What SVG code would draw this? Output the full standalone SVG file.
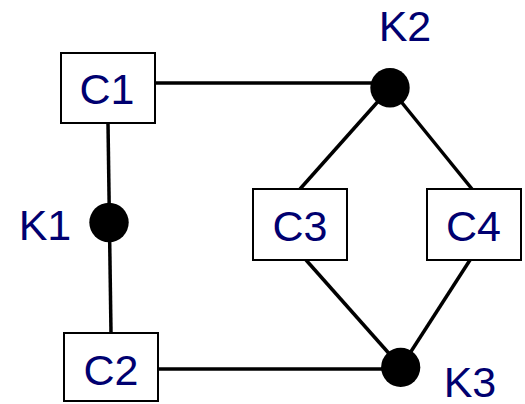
<svg xmlns="http://www.w3.org/2000/svg" width="525" height="404" viewBox="0 0 525 404">
  <style>
    .box { fill: #ffffff; stroke: #000000; stroke-width: 2; }
    .wire { stroke: #000000; stroke-width: 3.5; fill: none; stroke-linecap: butt; }
    .node { fill: #000000; }
    .lbl { font-family: "Liberation Sans", Arial, sans-serif; font-size: 43px; fill: #000070; text-anchor: middle; }
  </style>
  <rect width="525" height="404" fill="#ffffff"/>

  <!-- connectors -->
  <g id="connectors">
    <line class="wire" x1="155" y1="83" x2="390" y2="83"/>
    <line class="wire" x1="108" y1="123" x2="111" y2="333"/>
    <line class="wire" x1="158" y1="369" x2="401" y2="369"/>
    <line class="wire" x1="390" y1="88" x2="300" y2="189"/>
    <line class="wire" x1="390" y1="88" x2="472" y2="189"/>
    <line class="wire" x1="306" y1="260" x2="401" y2="367"/>
    <line class="wire" x1="470" y1="260" x2="401" y2="367"/>
  </g>

  <!-- components -->
  <g id="C1">
    <rect class="box" x="61" y="53" width="94" height="70"/>
    <text class="lbl" x="107" y="104">C1</text>
  </g>
  <g id="C2">
    <rect class="box" x="64" y="333" width="94" height="68"/>
    <text class="lbl" x="111" y="385">C2</text>
  </g>
  <g id="C3">
    <rect class="box" x="253" y="189" width="94" height="71"/>
    <text class="lbl" x="300" y="240.5">C3</text>
  </g>
  <g id="C4">
    <rect class="box" x="427" y="189" width="94" height="71"/>
    <text class="lbl" x="473.5" y="240.5">C4</text>
  </g>

  <!-- junction nodes -->
  <g id="K1">
    <circle class="node" cx="109" cy="222.5" r="19.7"/>
    <text class="lbl" x="45" y="240">K1</text>
  </g>
  <g id="K2">
    <circle class="node" cx="390" cy="87.7" r="19.7"/>
    <text class="lbl" x="405" y="41">K2</text>
  </g>
  <g id="K3">
    <circle class="node" cx="400.7" cy="367.3" r="19.6"/>
    <text class="lbl" x="470" y="396.5">K3</text>
  </g>
</svg>
